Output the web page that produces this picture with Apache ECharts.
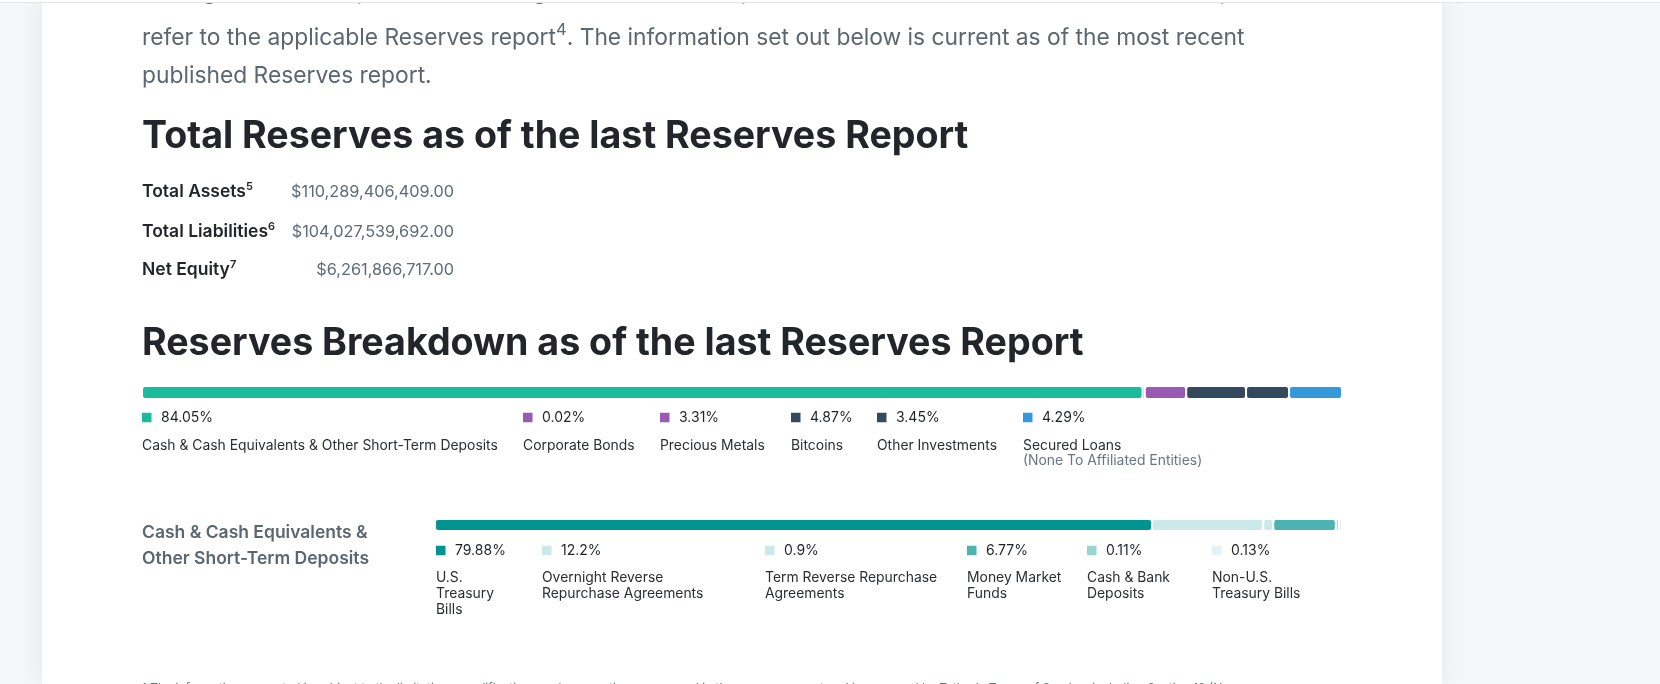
<!DOCTYPE html>
<html>
<head>
<meta charset="utf-8">
<script src="https://cdn.jsdelivr.net/npm/echarts@6/dist/echarts.min.js"></script>
<style>
  html, body { margin:0; padding:0; }
  body { width:1660px; height:684px; overflow:hidden; position:relative; background:#f5f6f7; font-family: Inter, "Noto Sans", sans-serif; }
  #card { position:absolute; left:42px; top:0; width:1400px; height:684px; background:#fff; box-shadow:0 0 22px rgba(0,0,0,0.07); }
  #topbar { position:absolute; left:0; top:0; width:1660px; height:2px; background:#fff; border-bottom:1px solid #e2e4e6; z-index:10; }
  .t { position:absolute; white-space:nowrap; z-index:3; }
  .para { left:142px; font-size:22.8px; line-height:38px; color:#5b6670; font-weight:400; }
  .para sup { font-size:16.5px; line-height:0; vertical-align:10px; }
  .h { left:142px; font-size:37.6px; line-height:44px; font-weight:700; color:#222529; }
  .lbl { left:142px; font-size:17.5px; line-height:20px; font-weight:600; color:#222529; }
  .lbl sup { font-size:11px; line-height:0; vertical-align:7px; font-weight:600; }
  .val { font-size:16.3px; line-height:20px; color:#5f6b76; text-align:right; right:calc(1660px - 454px); }
  .foot { left:142px; font-size:12px; line-height:14px; color:#6b7280; }
  #chart { position:absolute; left:0; top:0; width:1660px; height:684px; z-index:2; }
</style>
</head>
<body>
<div id="card"></div>
<div id="topbar"></div>

<div class="t para" style="top:-28px;">For a general description of the categories and the composition of the Reserves and their valuation, please</div>
<div class="t para" style="top:18px;">refer to the applicable Reserves report<sup>4</sup>. The information set out below is current as of the most recent</div>
<div class="t para" style="top:56px;">published Reserves report.</div>

<div class="t h" style="top:113px;">Total Reserves as of the last Reserves Report</div>

<div class="t lbl" style="top:181px;">Total Assets<sup>5</sup></div>
<div class="t val" style="top:181px;">$110,289,406,409.00</div>
<div class="t lbl" style="top:221px;">Total Liabilities<sup>6</sup></div>
<div class="t val" style="top:221px;">$104,027,539,692.00</div>
<div class="t lbl" style="top:259px;">Net Equity<sup>7</sup></div>
<div class="t val" style="top:259px;">$6,261,866,717.00</div>

<div class="t h" style="top:320px;">Reserves Breakdown as of the last Reserves Report</div>

<div class="t foot" style="top:681px;">1 The information presented is subject to the limitations, qualifications and assumptions expressed in the reserves report and is governed by Tether's Terms of Service, including Section 12 (No</div>

<div id="chart"></div>

<script>
// ---------- data ----------
const topCategories = ['Cash & Cash Equivalents & Other Short-Term Deposits', 'Corporate Bonds', 'Precious Metals', 'Bitcoins', 'Other Investments', 'Secured Loans'];
const topNotes = ['', '', '', '', '', '(None To Affiliated Entities)'];
const topValues = [84.05, 0.02, 3.31, 4.87, 3.45, 4.29];

const cashTitle = 'Cash & Cash Equivalents &\nOther Short-Term Deposits';
const cashCategories = ['U.S.\nTreasury\nBills', 'Overnight Reverse\nRepurchase Agreements', 'Term Reverse Repurchase\nAgreements', 'Money Market\nFunds', 'Cash & Bank\nDeposits', 'Non-U.S.\nTreasury Bills'];
const cashValues = [79.88, 12.2, 0.9, 6.77, 0.11, 0.13];

// ---------- style / layout ----------
const topColors = ['#1abc9c', '#9b59b6', '#9b59b6', '#34495e', '#34495e', '#3498db'];
const cashColors = ['#009490', '#cce9e9', '#cce9e9', '#4db3b0', '#99d4d1', '#e3f2f2'];
const topLegendX = [142, 523, 660, 791, 877, 1023];
const cashLegendX = [436, 542, 765, 967, 1087, 1212];
const topLegendY = 417.5, cashLegendY = 550.5;
const topLabelTop = 438, cashLabelTop = 570.5;
const GAP = 2;
const TOP_BAR = { left: 143, width: 1198, top: 380, height: 25, thick: 11 };
const CASH_BAR = { left: 436, width: 905, top: 512.5, height: 25, thick: 10 };

const sum = a => a.reduce((s, v) => s + v, 0);
// stacked segments [start, end, index, category]
function segments(values) {
  let acc = 0;
  return values.map((v, i) => { const s = acc; acc += v; return [s, acc, i, 0]; });
}

const chart = echarts.init(document.getElementById('chart'), null, { renderer: 'canvas' });

function stackSeries(values, colors, axisIndex, thick) {
  return {
    type: 'custom',
    xAxisIndex: axisIndex,
    yAxisIndex: axisIndex,
    silent: true,
    encode: { x: [0, 1], y: 3 },
    data: segments(values),
    renderItem: function (params, api) {
      const i = api.value(2);
      const p0 = api.coord([api.value(0), 0]);
      const p1 = api.coord([api.value(1), 0]);
      const w = p1[0] - p0[0];
      return {
        type: 'rect',
        shape: { x: p0[0] + i * GAP, y: p0[1] - thick / 2, width: w, height: thick, r: Math.min(2, w / 2) },
        style: { fill: colors[i] }
      };
    }
  };
}

function legendGraphics(values, colors, labels, notes, xs, cy, labelTop, lh) {
  const g = [];
  values.forEach((v, i) => {
    g.push({ type: 'rect', silent: true, shape: { x: xs[i], y: cy - 4.75, width: 9.5, height: 9.5 }, style: { fill: colors[i] } });
    g.push({ type: 'text', silent: true, x: xs[i] + 19, y: cy, style: { text: v + '%', font: '400 14px Inter', fill: '#1f2328', verticalAlign: 'middle' } });
    g.push({ type: 'text', silent: true, x: xs[i], y: labelTop, style: { text: labels[i], font: '400 13.9px Inter', fill: '#2b2f33', lineHeight: lh, verticalAlign: 'top' } });
    if (notes && notes[i]) {
      g.push({ type: 'text', silent: true, x: xs[i], y: labelTop + lh, style: { text: notes[i], font: '400 13.9px Inter', fill: '#6b7580', lineHeight: lh, verticalAlign: 'top' } });
    }
  });
  return g;
}

const option = {
  animation: false,
  grid: [
    { left: TOP_BAR.left, width: TOP_BAR.width - (topValues.length - 1) * GAP, top: TOP_BAR.top, height: TOP_BAR.height },
    { left: CASH_BAR.left, width: CASH_BAR.width - (cashValues.length - 1) * GAP, top: CASH_BAR.top, height: CASH_BAR.height }
  ],
  xAxis: [
    { gridIndex: 0, type: 'value', min: 0, max: sum(topValues), show: false },
    { gridIndex: 1, type: 'value', min: 0, max: sum(cashValues), show: false }
  ],
  yAxis: [
    { gridIndex: 0, type: 'category', data: ['Reserves'], show: false },
    { gridIndex: 1, type: 'category', data: ['Cash'], show: false }
  ],
  series: [
    stackSeries(topValues, topColors, 0, TOP_BAR.thick),
    stackSeries(cashValues, cashColors, 1, CASH_BAR.thick)
  ],
  graphic: [
    ...legendGraphics(topValues, topColors, topCategories, topNotes, topLegendX, topLegendY, topLabelTop, 15),
    ...legendGraphics(cashValues, cashColors, cashCategories, null, cashLegendX, cashLegendY, cashLabelTop, 15.6),
    { type: 'text', silent: true, x: 142, y: 519.5, style: { text: cashTitle, font: '600 17.5px Inter', fill: '#5b6670', lineHeight: 26, verticalAlign: 'top' } }
  ]
};
chart.setOption(option);
</script>
</body>
</html>
